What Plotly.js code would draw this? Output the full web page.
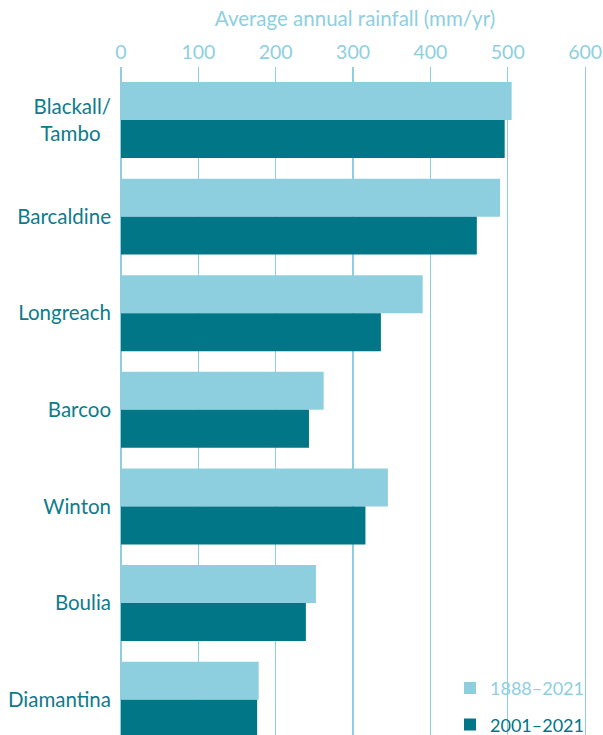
<!DOCTYPE html>
<html>
<head>
<meta charset="utf-8">
<script src="https://cdn.plot.ly/plotly-3.0.1.min.js"></script>
<style>html,body{margin:0;padding:0;background:#fff;}#chart{width:603px;height:735px;}</style>
</head>
<body>
<div id="chart"></div>
<script>
const regions = ['Blackall/<br>Tambo&nbsp;&nbsp;', 'Barcaldine', 'Longreach', 'Barcoo', 'Winton', 'Boulia', 'Diamantina'];
const rain1888 = [505, 490, 390, 262, 345, 252, 178];
const rain2001 = [496, 460, 336, 243, 316, 239, 176];
const seriesNames = ['1888–2021', '2001–2021'];
const xTicks = [0, 100, 200, 300, 400, 500, 600];

const light = '#8ecfdf';
const dark = '#007686';
const font = 'Lato, "Source Sans Pro", "Noto Sans", sans-serif';

const traces = [
  {type: 'bar', orientation: 'h', y: regions, x: rain1888,
   name: '<span style="color:' + light + '">' + seriesNames[0] + '</span>',
   legendgroup: 'a', marker: {color: light}, hoverinfo: 'x'},
  {type: 'bar', orientation: 'h', y: regions, x: rain2001,
   name: '<span style="color:' + dark + '">' + seriesNames[1] + '</span>',
   legendgroup: 'b', marker: {color: dark}, hoverinfo: 'x'}
];

const layout = {
  width: 603, height: 735,
  margin: {l: 121, r: 14, t: 67, b: 0, autoexpand: false},
  paper_bgcolor: '#fff', plot_bgcolor: '#fff',
  font: {family: font, size: 18, color: dark},
  barmode: 'group', bargap: 0.214, bargroupgap: 0,
  xaxis: {
    side: 'top', range: [0, 605],
    tickvals: xTicks, ticktext: xTicks.map(String),
    showgrid: true, gridcolor: light, gridwidth: 1.2,
    zeroline: true, zerolinecolor: light, zerolinewidth: 1.2,
    showline: false, ticks: '',
    ticklabelstandoff: 3,
    tickfont: {family: font, size: 19.5, color: light},
    title: {text: 'Average annual rainfall (mm/yr)', font: {family: font, size: 20.5, color: light}, standoff: 7}
  },
  yaxis: {
    type: 'category', range: [6.366, -0.549],
    showgrid: false, zeroline: false, showline: false, ticks: '',
    ticklabelstandoff: 9,
    tickfont: {family: font, size: 20.5, color: '#0e7b8b'}
  },
  showlegend: true,
  legend: {
    x: 0.703, y: 0.0975, xanchor: 'left', yanchor: 'top',
    bgcolor: 'rgba(255,255,255,0)', font: {family: font, size: 18},
    traceorder: 'grouped', tracegroupgap: 10, itemwidth: 30
  }
};

Plotly.newPlot('chart', traces, layout, {displayModeBar: false, staticPlot: true});
</script>
</body>
</html>
